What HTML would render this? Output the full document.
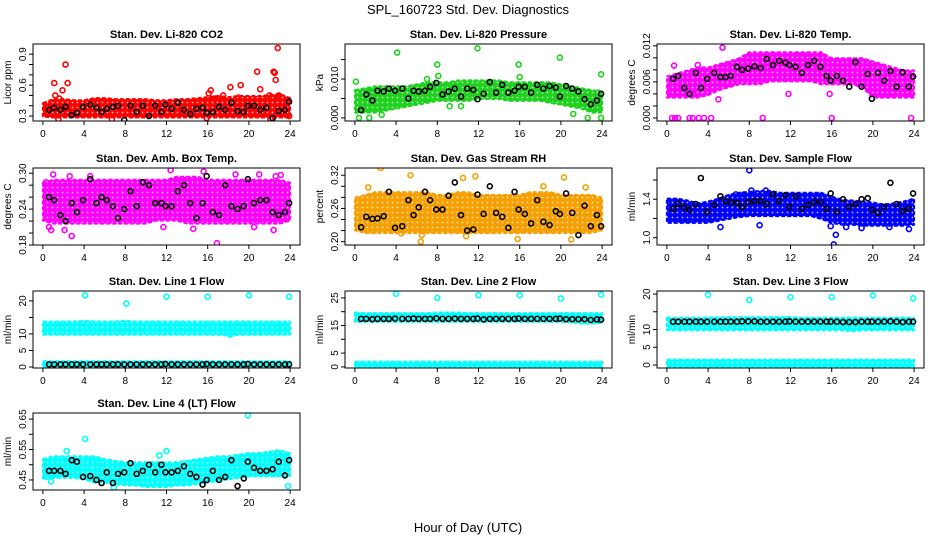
<!DOCTYPE html>
<html><head><meta charset="utf-8"><style>
html,body{margin:0;padding:0;background:#fff;}
svg{display:block;font-family:"Liberation Sans",sans-serif;}
</style></head><body>
<svg id="chart" width="936" height="540" viewBox="0 0 936 540">
<defs id="defs"></defs>
<rect width="936" height="540" fill="#fff"/>
<text x="468" y="14" text-anchor="middle" font-size="13">SPL_160723  Std. Dev. Diagnostics</text>
<text x="468" y="532" text-anchor="middle" font-size="13">Hour of Day (UTC)</text>
</svg>
<script>
const blackX=[0.6,1.1,1.7,2.2,2.8,3.3,3.9,4.6,5.2,5.7,6.2,6.8,7.3,7.9,8.5,9.1,9.7,10.3,10.9,11.5,11.9,12.5,13.1,13.7,14.3,14.9,15.5,15.9,16.5,17.1,17.7,18.3,18.9,19.5,19.9,20.5,21.1,21.7,22.3,22.9,23.5,23.9];
const bandHours=[0,1,2,3,4,5,6,7,8,9,10,11,12,13,14,15,16,17,18,19,20,21,22,23,24];
const xTicks=[0,4,8,12,16,20,24];

const co2Black=[0.36,0.38,0.36,0.39,0.31,0.33,0.39,0.41,0.38,0.34,0.37,0.39,0.40,0.26,0.40,0.34,0.40,0.30,0.40,0.34,0.41,0.37,0.43,0.36,0.32,0.37,0.38,0.33,0.34,0.39,0.36,0.43,0.35,0.34,0.40,0.40,0.36,0.38,0.28,0.35,0.36,0.44];
const co2Lo=[0.32,0.31,0.31,0.31,0.31,0.31,0.31,0.31,0.31,0.31,0.31,0.31,0.31,0.31,0.31,0.31,0.31,0.31,0.31,0.31,0.31,0.31,0.31,0.31,0.31];
const co2Hi=[0.40,0.44,0.44,0.43,0.43,0.45,0.45,0.44,0.44,0.44,0.44,0.43,0.43,0.44,0.44,0.45,0.46,0.47,0.46,0.47,0.47,0.47,0.48,0.49,0.45];
const co2OutX=[1.1,1.2,1.6,1.9,2.2,2.4,1.5,6.7,16.1,16.3,16.7,17.5,18.2,19.2,19.0,20.8,21.1,22.0,22.4,22.5,22.6,22.8,22.9,23.9,22.1,15.9];
const co2OutY=[0.62,0.50,0.47,0.55,0.80,0.62,0.27,0.27,0.52,0.55,0.47,0.50,0.58,0.60,0.48,0.73,0.56,0.50,0.73,0.72,0.65,0.96,0.50,0.30,0.27,0.28];
const presBlack=[0.002,0.006,0.0045,0.007,0.0068,0.0075,0.007,0.0075,0.005,0.007,0.0068,0.007,0.008,0.009,0.006,0.0068,0.0075,0.0055,0.0075,0.0072,0.0048,0.0062,0.0092,0.0065,0.0085,0.0065,0.0070,0.0080,0.0080,0.0065,0.0085,0.0075,0.0082,0.0078,0.0055,0.0082,0.0075,0.0068,0.0048,0.0035,0.0045,0.0062];
const presLo=[0.002,0.002,0.002,0.0025,0.003,0.0035,0.004,0.0045,0.005,0.005,0.005,0.005,0.0055,0.0055,0.0055,0.005,0.005,0.005,0.005,0.0045,0.004,0.0035,0.003,0.002,0.002];
const presHi=[0.0065,0.007,0.0075,0.0075,0.0075,0.0075,0.008,0.0085,0.0085,0.0085,0.009,0.009,0.009,0.009,0.009,0.0085,0.0085,0.0085,0.0085,0.0085,0.008,0.0075,0.007,0.0065,0.006];
const presOutX=[0.1,0.4,1.4,2.6,4.1,7.0,8.0,8.1,9.2,11.9,15.9,16.0,19.9,21.2,22.6,23.9,23.6,10.3,23.9];
const presOutY=[0.0093,0.0,0.0,0.0008,0.0168,0.0100,0.0137,0.0108,0.003,0.0179,0.0137,0.0105,0.0155,0.001,0.0,0.0112,0.0065,0.0030,0.0];
const tempBlack=[0.0065,0.007,0.005,0.004,0.0075,0.005,0.0065,0.0075,0.0068,0.0068,0.007,0.0085,0.0080,0.0082,0.0086,0.0083,0.0098,0.0088,0.0095,0.0092,0.0088,0.0085,0.0075,0.0088,0.0095,0.0085,0.007,0.0062,0.007,0.0062,0.0052,0.0093,0.0052,0.0073,0.0032,0.0075,0.0062,0.0078,0.0052,0.0076,0.0052,0.0069];
const tempLo=[0.0038,0.0038,0.0038,0.0038,0.0042,0.005,0.0055,0.006,0.006,0.006,0.0065,0.0065,0.0065,0.0065,0.0065,0.006,0.006,0.006,0.006,0.0055,0.0038,0.0038,0.0038,0.0038,0.0038];
const tempHi=[0.0065,0.007,0.0075,0.008,0.008,0.0085,0.009,0.0095,0.0105,0.0105,0.0105,0.0105,0.0105,0.0105,0.0105,0.0105,0.0095,0.0095,0.0095,0.0095,0.009,0.0085,0.008,0.0075,0.0075];
const tempOutX=[0.5,0.8,1.1,2.2,2.5,3.1,3.6,4.3,9.3,16.0,23.7,5.0,5.4,0.7,3.0,2.3,11.8,15.8];
const tempOutY=[0,0,0,0,0,0,0,0,0,0,0,0.0031,0.0117,0.0087,0.0088,0.004,0.004,0.004];
const ambBlack=[0.26,0.255,0.23,0.22,0.25,0.235,0.255,0.29,0.25,0.26,0.255,0.245,0.225,0.24,0.27,0.245,0.285,0.28,0.25,0.25,0.245,0.245,0.27,0.28,0.25,0.225,0.25,0.295,0.235,0.23,0.28,0.245,0.24,0.245,0.29,0.25,0.255,0.255,0.235,0.23,0.235,0.25];
const ambLo=[0.225,0.22,0.22,0.22,0.22,0.22,0.22,0.22,0.22,0.22,0.22,0.225,0.225,0.225,0.22,0.22,0.22,0.22,0.22,0.22,0.22,0.22,0.22,0.22,0.225];
const ambHi=[0.28,0.285,0.285,0.285,0.285,0.285,0.285,0.285,0.285,0.285,0.285,0.285,0.285,0.29,0.29,0.29,0.285,0.285,0.285,0.285,0.285,0.285,0.285,0.285,0.28];
const ambOutX=[0.6,0.8,1.0,2.1,2.6,2.8,4.6,12.4,15.6,16.9,18.7,21.0,22.6,23.1,14.6,22.4,11.7,20.5,0.3];
const ambOutY=[0.21,0.205,0.298,0.205,0.295,0.195,0.295,0.305,0.303,0.183,0.298,0.298,0.295,0.297,0.207,0.205,0.21,0.21,0.285];
const rhBlack=[0.226,0.245,0.241,0.242,0.246,0.29,0.225,0.228,0.275,0.248,0.262,0.29,0.275,0.258,0.258,0.283,0.307,0.248,0.22,0.222,0.285,0.25,0.30,0.252,0.245,0.225,0.29,0.258,0.25,0.233,0.275,0.236,0.23,0.255,0.25,0.287,0.252,0.212,0.265,0.228,0.248,0.228];
const rhLo=[0.225,0.22,0.22,0.22,0.22,0.22,0.22,0.22,0.22,0.22,0.22,0.22,0.22,0.22,0.22,0.22,0.22,0.22,0.22,0.22,0.22,0.22,0.22,0.22,0.225];
const rhHi=[0.275,0.28,0.285,0.285,0.285,0.285,0.285,0.285,0.28,0.28,0.285,0.285,0.28,0.28,0.28,0.28,0.28,0.285,0.285,0.285,0.28,0.28,0.28,0.28,0.275];
const rhOutX=[1.3,2.5,5.4,6.4,6.5,10.5,11.7,15.8,18.3,20.3,21.0,22.4,10.8,4.5];
const rhOutY=[0.298,0.333,0.32,0.20,0.212,0.315,0.318,0.205,0.30,0.316,0.204,0.298,0.21,0.215];
const sfBlack=[1.30,1.35,1.31,1.29,1.35,1.62,1.27,1.34,1.43,1.38,1.37,1.36,1.32,1.37,1.38,1.38,1.35,1.45,1.38,1.44,1.32,1.43,1.30,1.34,1.37,1.37,1.30,1.46,1.27,1.40,1.32,1.35,1.40,1.41,1.29,1.26,1.32,1.57,1.35,1.28,1.30,1.46];
const sfLo=[1.18,1.18,1.18,1.18,1.18,1.20,1.22,1.24,1.25,1.25,1.25,1.25,1.25,1.25,1.25,1.22,1.18,1.16,1.16,1.15,1.15,1.15,1.15,1.15,1.16];
const sfHi=[1.38,1.38,1.36,1.33,1.35,1.38,1.42,1.44,1.45,1.46,1.46,1.44,1.44,1.44,1.44,1.44,1.40,1.37,1.36,1.35,1.34,1.32,1.33,1.35,1.38];
const sfOutX=[5.2,9.0,8.0,8.2,9.6,16.2,16.4,15.9,17.4,18.9,21.6,23.5,6.7,7.5];
const sfOutY=[1.11,1.13,1.70,1.49,1.49,0.93,1.03,1.12,1.11,1.10,1.11,1.09,1.45,1.45];
const l1Black=[0.8,0.8,0.8,0.8,0.8,0.8,0.8,0.8,0.8,0.8,0.8,0.8,0.8,0.8,0.8,0.8,0.8,0.8,0.8,0.8,0.9,0.8,0.8,0.8,0.8,0.8,0.8,0.9,0.8,0.8,0.8,0.8,0.8,0.8,0.9,0.8,0.8,0.8,0.8,0.8,0.8,0.8];
const l1Lo=[10.5,10.5,10.5,10.5,10.5,10.5,10.5,10.5,10.5,10.5,10.5,10.5,10.5,10.5,10.5,10.5,10.5,10.5,10.3,10.5,10.5,10.5,10.5,10.5,10.5];
const l1Hi=[13,13,13,13,13.2,13,13,13,13.2,13,13,13,13,13,13,13,13,13,13,13,13,13,13,13,13];
const l1Lo2=[0.3,0.3,0.3,0.3,0.3,0.3,0.3,0.3,0.3,0.3,0.3,0.3,0.3,0.3,0.3,0.3,0.3,0.3,0.3,0.3,0.3,0.3,0.3,0.3,0.3];
const l1Hi2=[1.0,1.0,1.0,1.0,1.0,1.0,1.0,1.0,1.0,1.0,1.0,1.0,1.0,1.0,1.0,1.0,1.0,1.0,1.0,1.0,1.0,1.0,1.0,1.0,1.0];
const l1OutX=[4.1,8.1,12.0,16.0,20.0,23.9,18.2];
const l1OutY=[21.7,19.2,21.3,21.3,21.7,21.3,9.8];
const l2Black=[17.4,17.4,17.3,17.4,17.4,17.4,17.5,17.4,17.4,17.5,17.4,17.4,17.4,17.6,17.4,17.4,17.5,17.4,17.4,17.4,17.5,17.2,17.4,17.4,17.4,17.4,17.4,17.5,17.4,17.4,17.4,17.4,17.4,17.4,17.5,17.3,17.3,17.3,17.3,17.0,17.2,17.1];
const l2Lo=[17.2,17.2,17.2,17.2,17.2,17.2,17.2,17.2,17.2,17.2,17.2,17.2,17.2,17.2,17.2,17.2,17.2,17.2,17.2,17.2,17.2,17.0,16.6,16.6,16.8];
const l2Hi=[18.8,18.6,18.6,18.6,18.6,18.6,18.6,18.6,18.8,18.8,18.8,18.6,18.6,18.6,18.6,18.6,18.6,18.6,18.6,18.6,18.6,18.6,18.6,18.6,18.6];
const l2Lo2=[0.2,0.2,0.2,0.2,0.2,0.2,0.2,0.2,0.2,0.2,0.2,0.2,0.2,0.2,0.2,0.2,0.2,0.2,0.2,0.2,0.2,0.2,0.2,0.2,0.2];
const l2Hi2=[1.0,1.0,1.0,1.0,1.0,1.0,1.0,1.0,1.0,1.0,1.0,1.0,1.0,1.0,1.0,1.0,1.0,1.0,1.0,1.0,1.0,1.0,1.0,1.0,1.0];
const l2OutX=[4.0,8.0,12.0,16.0,20.0,23.9];
const l2OutY=[26.5,25.0,26.0,26.0,24.8,26.2];
const l3Black=[12.2,12.2,12.2,12.2,12.2,12.2,12.2,12.2,12.2,12.2,12.2,12.2,12.3,12.3,12.3,12.2,12.2,12.2,12.2,12.2,12.3,12.2,12.2,12.2,12.2,12.2,12.2,12.2,12.2,12.1,12.1,12.1,12.2,12.2,12.2,12.2,12.2,12.3,12.2,12.1,12.2,12.2];
const l3Lo=[10.5,10.5,10.5,10.5,10.5,10.5,10.5,10.5,10.5,10.5,10.5,10.5,10.5,10.5,10.5,10.5,10.5,10.5,10.2,10.5,10.5,10.5,10.5,10.5,10.5];
const l3Hi=[12.6,12.6,12.6,12.6,12.7,12.7,12.8,12.8,12.8,12.8,12.8,12.8,12.8,12.6,12.6,12.6,12.6,12.6,12.6,12.6,12.6,12.6,12.6,12.6,12.6];
const l3Lo2=[0.1,0.1,0.1,0.1,0.1,0.1,0.1,0.1,0.1,0.1,0.1,0.1,0.1,0.1,0.1,0.1,0.1,0.1,0.1,0.1,0.1,0.1,0.1,0.1,0.1];
const l3Hi2=[0.8,0.8,0.8,0.8,0.8,0.8,0.8,0.8,0.8,0.8,0.8,0.8,0.8,0.8,0.8,0.8,0.8,0.8,0.8,0.8,0.8,0.8,0.8,0.8,0.8];
const l3OutX=[4.0,8.0,12.0,16.0,20.0,23.9];
const l3OutY=[19.8,18.3,19.1,19.1,19.6,18.8];
const l4Black=[0.48,0.48,0.48,0.47,0.515,0.51,0.46,0.463,0.45,0.44,0.475,0.44,0.47,0.475,0.505,0.47,0.48,0.50,0.475,0.50,0.475,0.475,0.48,0.495,0.47,0.46,0.435,0.45,0.48,0.45,0.46,0.515,0.43,0.455,0.51,0.49,0.48,0.48,0.485,0.51,0.465,0.515];
const l4Lo=[0.46,0.465,0.465,0.465,0.46,0.45,0.45,0.445,0.44,0.44,0.435,0.435,0.435,0.44,0.44,0.445,0.45,0.455,0.46,0.465,0.47,0.47,0.47,0.47,0.47];
const l4Hi=[0.51,0.52,0.52,0.52,0.52,0.52,0.51,0.505,0.50,0.50,0.50,0.50,0.50,0.50,0.505,0.51,0.515,0.52,0.52,0.525,0.53,0.53,0.535,0.54,0.53];
const l4OutX=[0.8,4.1,19.9,11.3,12.0,23.8,6.9,2.3];
const l4OutY=[0.445,0.585,0.662,0.53,0.545,0.43,0.425,0.545];

const panels=[
 {name:'co2',title:'Stan. Dev. Li-820 CO2',ylab:'Licor ppm',col:0,row:0,ylim:[0.252,0.999],ticks:[0.3,0.4,0.5,0.6,0.7,0.8,0.9],labels:['0.3','0.6','0.9'],color:'#ff0000',bands:[[co2Lo,co2Hi]],black:co2Black,ox:co2OutX,oy:co2OutY},
 {name:'pressure',title:'Stan. Dev. Li-820 Pressure',ylab:'kPa',col:1,row:0,ylim:[-0.0008,0.019],ticks:[0,0.005,0.010,0.015],labels:['0.000','0.010'],color:'#1ed21e',bands:[[presLo,presHi]],black:presBlack,ox:presOutX,oy:presOutY},
 {name:'li820-temp',title:'Stan. Dev. Li-820 Temp.',ylab:'degrees C',col:2,row:0,ylim:[-0.0005,0.0123],ticks:[0,0.002,0.004,0.006,0.008,0.010,0.012],labels:['0.000','0.006','0.012'],color:'#ff00ff',bands:[[tempLo,tempHi]],black:tempBlack,ox:tempOutX,oy:tempOutY},
 {name:'amb-box-temp',title:'Stan. Dev. Amb. Box Temp.',ylab:'degrees C',col:0,row:1,ylim:[0.18,0.3087],ticks:[0.18,0.20,0.22,0.24,0.26,0.28,0.30],labels:['0.18','0.24','0.30'],color:'#ff00ff',bands:[[ambLo,ambHi]],black:ambBlack,ox:ambOutX,oy:ambOutY},
 {name:'gas-rh',title:'Stan. Dev. Gas Stream RH',ylab:'percent',col:1,row:1,ylim:[0.194,0.333],ticks:[0.20,0.22,0.24,0.26,0.28,0.30,0.32],labels:['0.20','0.26','0.32'],color:'#f5a000',bands:[[rhLo,rhHi]],black:rhBlack,ox:rhOutX,oy:rhOutY},
 {name:'sample-flow',title:'Stan. Dev. Sample Flow',ylab:'ml/min',col:2,row:1,ylim:[0.924,1.724],ticks:[1.0,1.2,1.4,1.6],labels:['1.0','1.4'],color:'#0000ff',bands:[[sfLo,sfHi]],black:sfBlack,ox:sfOutX,oy:sfOutY},
 {name:'line1-flow',title:'Stan. Dev. Line 1 Flow',ylab:'ml/min',col:0,row:2,ylim:[-0.3,23],ticks:[0,5,10,15,20],labels:['0','5','10','20'],color:'#00ffff',bands:[[l1Lo,l1Hi],[l1Lo2,l1Hi2]],black:l1Black,ox:l1OutX,oy:l1OutY},
 {name:'line2-flow',title:'Stan. Dev. Line 2 Flow',ylab:'ml/min',col:1,row:2,ylim:[-0.4,27.5],ticks:[0,5,10,15,20,25],labels:['0','5','15','25'],color:'#00ffff',bands:[[l2Lo,l2Hi],[l2Lo2,l2Hi2]],black:l2Black,ox:l2OutX,oy:l2OutY},
 {name:'line3-flow',title:'Stan. Dev. Line 3 Flow',ylab:'ml/min',col:2,row:2,ylim:[-0.85,20.85],ticks:[0,5,10,15,20],labels:['0','5','10','20'],color:'#00ffff',bands:[[l3Lo,l3Hi],[l3Lo2,l3Hi2]],black:l3Black,ox:l3OutX,oy:l3OutY},
 {name:'line4-flow',title:'Stan. Dev. Line 4 (LT) Flow',ylab:'ml/min',col:0,row:3,ylim:[0.417,0.67],ticks:[0.45,0.50,0.55,0.60,0.65],labels:['0.45','0.55','0.65'],color:'#00ffff',bands:[[l4Lo,l4Hi]],black:l4Black,ox:l4OutX,oy:l4OutY}
];

const NS='http://www.w3.org/2000/svg';
const svg=document.getElementById('chart');
const defs=document.getElementById('defs');
const colLeft=[33,345,657], rowTop=[44,168,291,413], W=267, H=77;
function mk(tag,attrs,parent){const e=document.createElementNS(NS,tag);for(const k in attrs)e.setAttribute(k,attrs[k]);parent.appendChild(e);return e;}

panels.forEach((p,pi)=>{
  const L=colLeft[p.col], T=rowTop[p.row], R=L+W, B=T+H;
  const xs=h=>L+W*(h+0.96)/25.92;
  const ys=v=>B-H*(v-p.ylim[0])/(p.ylim[1]-p.ylim[0]);
  // texture pattern mimicking overlapping open circles
  const pat=mk('pattern',{id:'pat'+pi,width:5,height:5,patternUnits:'userSpaceOnUse'},defs);
  mk('rect',{width:5,height:5,fill:p.color},pat);
  mk('circle',{cx:2.5,cy:2.5,r:0.9,fill:'#fff','fill-opacity':0.75},pat);
  const g=mk('g',{},svg);
  
  
  const clipId='clip-'+p.name;
  const cp=mk('clipPath',{id:clipId},g); mk('rect',{x:L,y:T,width:W,height:H},cp);
  const plot=mk('g',{'clip-path':'url(#'+clipId+')'},g);
  p.bands.forEach((b,bi)=>{
    let d='';
    bandHours.forEach((h,i)=>{d+=(i?'L':'M')+xs(h).toFixed(1)+' '+(ys(b[1][i])-2.5).toFixed(1);});
    for(let i=bandHours.length-1;i>=0;i--){d+='L'+xs(bandHours[i]).toFixed(1)+' '+(ys(b[0][i])+2.5).toFixed(1);}
    const band=mk('path',{d:d+'Z',fill:'url(#pat'+pi+')',stroke:p.color,'stroke-width':2,'stroke-dasharray':'4 2','stroke-linejoin':'round'},plot);
    
    
  });
  p.ox.forEach((x,i)=>{
    const c=mk('circle',{cx:xs(x),cy:ys(p.oy[i]),r:2.5,fill:'none',stroke:p.color,'stroke-width':1.6},plot);
    
    
  });
  p.black.forEach((v,i)=>{
    const c=mk('circle',{cx:xs(blackX[i]),cy:ys(v),r:2.5,fill:'none',stroke:'#000','stroke-width':1.6},plot);
    
    
  });
  const box=mk('rect',{x:L,y:T,width:W,height:H,fill:'none',stroke:'#000','stroke-width':1},g);
  
  
  const t=mk('text',{x:L+W/2,y:T-6,'text-anchor':'middle','font-size':11,'font-weight':'bold'},g);
  t.textContent=p.title;
  
  
  xTicks.forEach(h=>{
    mk('line',{x1:xs(h),x2:xs(h),y1:B,y2:B+4,stroke:'#000'},g);
    const tl=mk('text',{x:xs(h),y:B+16,'text-anchor':'middle','font-size':10},g);
    tl.textContent=h;
    
    
  });
  p.ticks.forEach(v=>{ mk('line',{x1:L-4,x2:L,y1:ys(v),y2:ys(v),stroke:'#000'},g); });
  p.labels.forEach(s=>{
    const v=parseFloat(s), y=ys(v);
    const tl=mk('text',{x:L-7,y:y,'text-anchor':'middle','font-size':10,transform:'rotate(-90 '+(L-7)+' '+y+')'},g);
    tl.textContent=s;
    
    
  });
  const yl=mk('text',{x:L-22,y:T+H/2,'text-anchor':'middle','font-size':10,transform:'rotate(-90 '+(L-22)+' '+(T+H/2)+')'},g);
  yl.textContent=p.ylab;
  
  
});
</script>
</body></html>
